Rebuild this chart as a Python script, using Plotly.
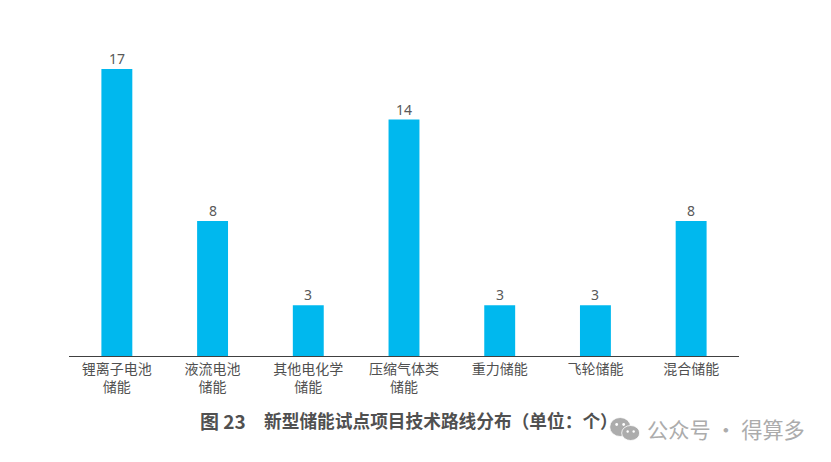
import plotly.graph_objects as go

categories = ["锂离子电池<br>储能", "液流电池<br>储能", "其他电化学<br>储能", "压缩气体类<br>储能", "重力储能", "飞轮储能", "混合储能"]
values = [17, 8, 3, 14, 3, 3, 8]
title_label = "图 23"
title_text = "新型储能试点项目技术路线分布（单位：个）"
watermark_text = "公众号 · 得算多"

W, H = 823, 454
CJK = "Noto Sans CJK SC"
PL, PR, PT, PB = 68.5, 739.5, 20, 356  # plot box in window pixels

fig = go.Figure(go.Bar(
    x=categories, y=values,
    marker=dict(color="#00B8EE", line=dict(width=0)),
    width=0.323,
))

def px(x): return (x - PL) / (PR - PL)
def py(y): return (PB - y) / (PB - PT)

shapes = []
for cx, cy, rx, ry, col in [(620.5, 427, 10.5, 9.5, "#ACACAC"), (631, 433, 9, 7.5, "#ACACAC"),
                            (617, 424.5, 1.4, 1.4, "white"), (624, 424.5, 1.4, 1.4, "white"),
                            (628, 431.5, 1.2, 1.2, "white"), (634, 431.5, 1.2, 1.2, "white")]:
    shapes.append(dict(type="circle", xref="paper", yref="paper",
                       x0=px(cx - rx), x1=px(cx + rx), y0=py(cy + ry), y1=py(cy - ry),
                       fillcolor=col, line=dict(color="white", width=0.8 if rx > 5 else 0), layer="above"))

annotations = [
    dict(text=title_label, xref="paper", yref="paper", x=px(198), y=py(420),
         xanchor="left", yanchor="middle", showarrow=False,
         font=dict(family=CJK, size=19, color="#505050", weight=600)),
    dict(text=title_text, xref="paper", yref="paper", x=px(262), y=py(420),
         xanchor="left", yanchor="middle", showarrow=False,
         font=dict(family=CJK, size=17.7, color="#505050", weight=600)),
    dict(text=watermark_text, xref="paper", yref="paper", x=px(645), y=py(429),
         xanchor="left", yanchor="middle", showarrow=False,
         font=dict(family=CJK, size=21.2, color="#ACACAC")),
]
for c, v in zip(categories, values):
    annotations.append(dict(text=str(v), x=c, y=v, xref="x", yref="y", yanchor="bottom",
                            showarrow=False, yshift=-1,
                            font=dict(family="Noto Sans, " + CJK, size=14, color="#595959")))

fig.update_layout(
    width=W, height=H,
    autosize=False,
    paper_bgcolor="white", plot_bgcolor="white",
    margin=dict(l=PL - 8, r=W + 8 - PR, t=PT - 8, b=H + 8 - PB, autoexpand=False),
    showlegend=False,
    xaxis=dict(
        type="category", range=[-0.5, 6.5],
        showline=True, linecolor="#404040", linewidth=1,
        ticks="", showgrid=False, zeroline=False,
        tickfont=dict(family=CJK, size=14, color="#505050"),
    ),
    yaxis=dict(range=[0, 19.9], visible=False, showgrid=False, zeroline=False),
    shapes=shapes,
    annotations=annotations,
)

fig.write_html("out.html")
